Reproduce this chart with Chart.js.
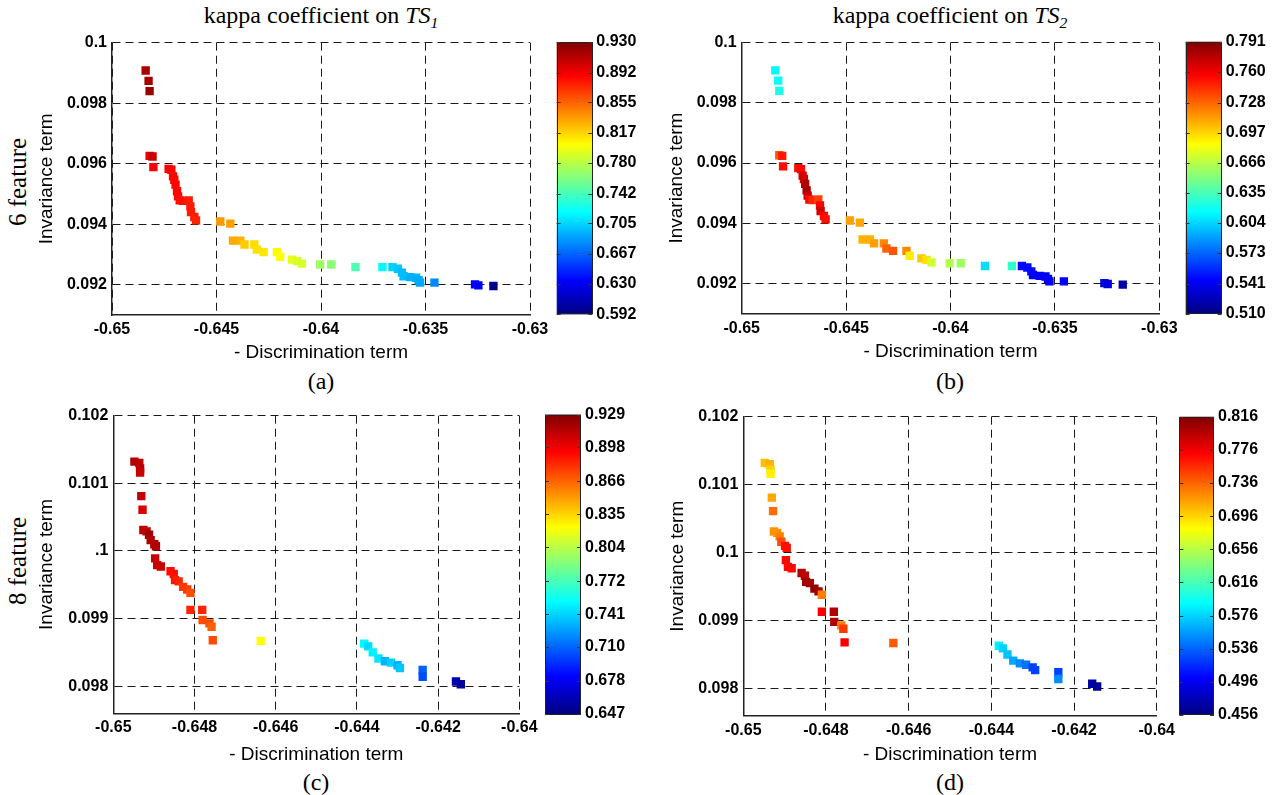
<!DOCTYPE html>
<html>
<head>
<meta charset="utf-8">
<script src="https://cdn.jsdelivr.net/npm/chart.js@4/dist/chart.umd.min.js"></script>
<style>
  html, body { margin:0; padding:0; background:#fff; }
  #root { position:relative; width:1275px; height:795px; overflow:hidden; background:#fff; }
  canvas { position:absolute; }
  .lbl { position:absolute; transform:translate(-50%,-50%); white-space:nowrap; font-family:'Liberation Serif','Times New Roman',serif; color:#000; line-height:1; }
  .rot { transform:translate(-50%,-50%) rotate(-90deg); }
  sub { font-size:65%; vertical-align:-0.3em; }
</style>
</head>
<body>
<div id="root">
  <div class="lbl" style="left:321px;top:17px;font-size:24px;">kappa coefficient on <i>TS</i><sub><i>1</i></sub></div>
  <div class="lbl" style="left:950px;top:17px;font-size:24px;">kappa coefficient on <i>TS</i><sub><i>2</i></sub></div>
  <div class="lbl rot" style="left:17px;top:182px;font-size:25px;">6 feature</div>
  <div class="lbl rot" style="left:17px;top:561px;font-size:25px;">8 feature</div>
  <div class="lbl" style="left:321px;top:381px;font-size:24px;">(a)</div>
  <div class="lbl" style="left:950px;top:381px;font-size:24px;">(b)</div>
  <div class="lbl" style="left:316px;top:782px;font-size:24px;">(c)</div>
  <div class="lbl" style="left:950px;top:782px;font-size:24px;">(d)</div>
</div>
<script>
// ---------------- DATA ----------------
// 6-feature Pareto front (shared by panels a and b)
const disc6 = [-0.64839,-0.64825,-0.64820,-0.64820,-0.64806,-0.64802,-0.64729,-0.64716,-0.64708,-0.64702,
  -0.64696,-0.64689,-0.64684,-0.64676,-0.64660,-0.64633,-0.64625,-0.64622,-0.64606,-0.64598,
  -0.64482,-0.64434,-0.64421,-0.64386,-0.64366,-0.64319,-0.64307,-0.64275,-0.64211,-0.64195,
  -0.64139,-0.64115,-0.64091,-0.64004,-0.63951,-0.63835,-0.63706,-0.63658,-0.63632,-0.63613,
  -0.63605,-0.63573,-0.63545,-0.63533,-0.63526,-0.63457,-0.63263,-0.63247,-0.63175];
const inv6 = [0.09908,0.09874,0.09840,0.09626,0.09624,0.09589,0.09583,0.09580,0.09558,0.09547,
  0.09531,0.09509,0.09492,0.09479,0.09477,0.09479,0.09459,0.09440,0.09424,0.09413,
  0.09409,0.09402,0.09346,0.09346,0.09333,0.09333,0.09316,0.09308,0.09308,0.09292,
  0.09283,0.09278,0.09270,0.09267,0.09267,0.09258,0.09258,0.09258,0.09253,0.09240,
  0.09228,0.09225,0.09223,0.09215,0.09207,0.09207,0.09201,0.09198,0.09196];
const kappaTS1_6 = [0.916,0.916,0.923,0.893,0.906,0.888,0.888,0.888,0.886,0.886,
  0.886,0.886,0.886,0.883,0.883,0.879,0.879,0.879,0.879,0.876,
  0.837,0.835,0.832,0.829,0.820,0.815,0.813,0.812,0.805,0.803,
  0.795,0.791,0.790,0.771,0.764,0.744,0.717,0.704,0.700,0.697,
  0.697,0.693,0.693,0.690,0.690,0.680,0.633,0.633,0.595];
const kappaTS2_6 = [0.614,0.617,0.622,0.732,0.749,0.752,0.752,0.754,0.766,0.769,
  0.777,0.780,0.771,0.754,0.746,0.738,0.757,0.769,0.754,0.752,
  0.712,0.710,0.707,0.707,0.712,0.718,0.729,0.732,0.718,0.690,
  0.701,0.693,0.673,0.665,0.659,0.606,0.628,0.547,0.547,0.547,
  0.544,0.544,0.544,0.544,0.544,0.544,0.538,0.535,0.521];

// 8-feature Pareto front (shared by panels c and d)
const disc8 = [-0.64948,-0.64936,-0.64934,-0.64934,-0.64931,-0.64928,-0.64926,-0.64918,-0.64912,-0.64908,
  -0.64899,-0.64895,-0.64897,-0.64892,-0.64883,-0.64859,-0.64851,-0.64848,-0.64839,-0.64828,
  -0.64818,-0.64810,-0.64810,-0.64781,-0.64780,-0.64763,-0.64758,-0.64755,-0.64637,-0.64382,
  -0.64372,-0.64361,-0.64347,-0.64331,-0.64316,-0.64300,-0.64294,-0.64238,-0.64238,-0.64156,-0.64144];
const inv8 = [0.10132,0.10130,0.10122,0.10116,0.10081,0.10061,0.10031,0.10029,0.10024,0.10016,
  0.10010,0.10007,0.09989,0.09979,0.09977,0.09970,0.09966,0.09957,0.09955,0.09947,
  0.09943,0.09938,0.09913,0.09913,0.09898,0.09893,0.09888,0.09868,0.09867,0.09863,
  0.09859,0.09850,0.09841,0.09837,0.09835,0.09831,0.09827,0.09824,0.09814,0.09807,0.09803];
const kappaTS1_8 = [0.915,0.912,0.912,0.909,0.912,0.904,0.912,0.912,0.921,0.915,
  0.915,0.915,0.909,0.909,0.909,0.890,0.890,0.887,0.884,0.878,
  0.878,0.873,0.884,0.884,0.873,0.873,0.867,0.873,0.823,0.751,
  0.743,0.749,0.746,0.732,0.740,0.732,0.737,0.709,0.703,0.661,0.655];
const kappaTS2_8 = [0.704,0.708,0.697,0.686,0.712,0.733,0.719,0.719,0.726,0.744,
  0.766,0.766,0.769,0.769,0.769,0.798,0.794,0.805,0.802,0.809,
  0.805,0.726,0.773,0.798,0.798,0.726,0.751,0.773,0.740,0.586,
  0.575,0.571,0.560,0.550,0.542,0.524,0.524,0.524,0.550,0.470,0.463];

// axis ticks
const xTicks6 = [-0.65,-0.645,-0.64,-0.635,-0.63];
const xLabels6 = ['-0.65','-0.645','-0.64','-0.635','-0.63'];
const yTicks6 = [0.092,0.094,0.096,0.098,0.1];
const yLabels6 = ['0.092','0.094','0.096','0.098','0.1'];
const xTicks8 = [-0.65,-0.648,-0.646,-0.644,-0.642,-0.64];
const xLabels8 = ['-0.65','-0.648','-0.646','-0.644','-0.642','-0.64'];
const yTicks8 = [0.098,0.099,0.1,0.101,0.102];
const yLabels8c = ['0.098','0.099','.1','0.101','0.102'];
const yLabels8d = ['0.098','0.099','0.1','0.101','0.102'];

// colorbar ticks
const cbTicksA = [0.592,0.630,0.667,0.705,0.742,0.780,0.817,0.855,0.892,0.930];
const cbTicksB = [0.510,0.541,0.573,0.604,0.635,0.666,0.697,0.728,0.760,0.791];
const cbTicksC = [0.647,0.678,0.710,0.741,0.772,0.804,0.835,0.866,0.898,0.929];
const cbTicksD = [0.456,0.496,0.536,0.576,0.616,0.656,0.696,0.736,0.776,0.816];

// ---------------- RENDERING ----------------
const SANS = "'Liberation Sans', Arial, Helvetica, sans-serif";
Chart.defaults.font.family = SANS;
Chart.defaults.color = '#000';
const TICK_FONT = {size:16, weight:'bold'};

function clamp(v){ return Math.max(0, Math.min(1, v)); }
function jet(t){
  t = clamp(t);
  const r = clamp(1.5 - Math.abs(4*t - 3));
  const g = clamp(1.5 - Math.abs(4*t - 2));
  const b = clamp(1.5 - Math.abs(4*t - 1));
  return 'rgb(' + Math.round(r*255) + ',' + Math.round(g*255) + ',' + Math.round(b*255) + ')';
}

const root = document.getElementById('root');
function makeCanvas(box){
  const c = document.createElement('canvas');
  c.width = box.W; c.height = box.H;
  c.style.left = box.L + 'px'; c.style.top = box.T + 'px';
  c.style.width = box.W + 'px'; c.style.height = box.H + 'px';
  root.appendChild(c);
  return c;
}

function makePlot(p){
  const {box, area} = p;
  const cmin = p.cb[0], cmax = p.cb[p.cb.length-1];
  const pts = p.xs.map((x,i)=>({x:x, y:p.ys[i]}));
  const colors = p.k.map(v => jet((v - cmin)/(cmax - cmin)));
  const titleLH = 19*1.2/2;
  new Chart(makeCanvas(box), {
    type:'scatter',
    data:{ datasets:[{ data:pts, pointStyle:'rect', pointRadius:5.9, pointHoverRadius:5.9,
      pointBorderWidth:0, pointBackgroundColor:colors, showLine:false }]},
    options:{
      responsive:false, animation:false, events:[],
      layout:{ padding:{ left:0, top:area.t - box.T, right:box.L + box.W - area.r, bottom:0 } },
      plugins:{ legend:{display:false}, tooltip:{enabled:false}, title:{display:false} },
      scales:{
        x:{ type:'linear', position:'bottom', min:p.xmin, max:p.xmax,
          afterBuildTicks:s=>{ s.ticks = p.xTicks.map(v=>({value:v})); },
          afterFit:s=>{ s.height = box.T + box.H - area.b; },
          ticks:{ callback:(v,i)=>p.xLabels[i], font:TICK_FONT, color:'#000', padding:5, maxRotation:0, autoSkip:false },
          grid:{ color:'#1a1a1a', lineWidth:1, drawTicks:false },
          border:{ display:true, color:'#222', width:1.5, dash:[8,5] },
          title:{ display:true, text:'- Discrimination term', font:{size:19}, color:'#000',
            padding:{top:0, bottom: box.T + box.H - p.xTitleY - titleLH} }
        },
        y:{ type:'linear', position:'left', min:p.ymin, max:p.ymax,
          afterBuildTicks:s=>{ s.ticks = p.yTicks.map(v=>({value:v})); },
          afterFit:s=>{ s.width = area.l - box.L; },
          ticks:{ callback:(v,i)=>p.yLabels[i], font:TICK_FONT, color:'#000', padding:5, autoSkip:false },
          grid:{ color:'#1a1a1a', lineWidth:1, drawTicks:false },
          border:{ display:true, color:'#222', width:1.5, dash:[8,5] },
          title:{ display:true, text:'Invariance term', font:{size:19}, color:'#000',
            padding:{top: p.yTitleX - box.L - titleLH, bottom:0} }
        }
      }
    }
  });
}

const colorbarPlugin = {
  id:'colorbar',
  beforeDatasetsDraw(chart){
    const {ctx, chartArea:a} = chart;
    const g = ctx.createLinearGradient(0, a.bottom, 0, a.top);
    [0, 0.125, 0.375, 0.625, 0.875, 1].forEach(t => g.addColorStop(t, jet(t)));
    ctx.save();
    ctx.fillStyle = g;
    ctx.fillRect(a.left, a.top, a.right - a.left, a.bottom - a.top);
    ctx.strokeStyle = '#222'; ctx.lineWidth = 1;
    ctx.strokeRect(Math.round(a.left)+0.5, Math.round(a.top)+0.5, Math.round(a.right-a.left)-1, Math.round(a.bottom-a.top)-1);
    const ys = chart.scales.y;
    ctx.strokeStyle = '#333';
    ys.ticks.forEach(t => {
      const y = Math.round(ys.getPixelForValue(t.value)) + 0.5;
      ctx.beginPath();
      ctx.moveTo(a.left, y); ctx.lineTo(a.left + 4, y);
      ctx.moveTo(a.right - 4, y); ctx.lineTo(a.right, y);
      ctx.stroke();
    });
    ctx.restore();
  }
};

function makeColorbar(box, area, ticks){
  new Chart(makeCanvas(box), {
    type:'scatter',
    data:{ datasets:[] },
    options:{
      responsive:false, animation:false, events:[],
      layout:{ padding:{ left:area.l - box.L, top:area.t - box.T, right:0, bottom:box.T + box.H - area.b } },
      plugins:{ legend:{display:false}, tooltip:{enabled:false} },
      scales:{
        x:{ display:false, min:0, max:1 },
        y:{ position:'right', min:ticks[0], max:ticks[ticks.length-1],
          afterBuildTicks:s=>{ s.ticks = ticks.map(v=>({value:v})); },
          afterFit:s=>{ s.width = box.L + box.W - area.r; },
          ticks:{ callback:v=>v.toFixed(3), font:TICK_FONT, color:'#000', padding:4, autoSkip:false },
          grid:{ display:false, drawTicks:false },
          border:{ display:false }
        }
      }
    },
    plugins:[colorbarPlugin]
  });
}

// panel (a)
makePlot({ box:{L:0,T:28,W:560,H:347}, area:{l:112,t:42.7,r:530,b:315},
  xs:disc6, ys:inv6, k:kappaTS1_6, cb:cbTicksA,
  xmin:-0.65, xmax:-0.63, ymin:0.091, ymax:0.1,
  xTicks:xTicks6, xLabels:xLabels6, yTicks:yTicks6, yLabels:yLabels6, xTitleY:353, yTitleX:47 });
makeColorbar({L:545,T:28,W:110,H:300}, {l:556.7,t:42,r:592.3,b:316}, cbTicksA);

// panel (b)
makePlot({ box:{L:630,T:28,W:560,H:347}, area:{l:741.7,t:42.7,r:1159.3,b:313.5},
  xs:disc6, ys:inv6, k:kappaTS2_6, cb:cbTicksB,
  xmin:-0.65, xmax:-0.63, ymin:0.091, ymax:0.1,
  xTicks:xTicks6, xLabels:xLabels6, yTicks:yTicks6, yLabels:yLabels6, xTitleY:352, yTitleX:677 });
makeColorbar({L:1175,T:28,W:100,H:300}, {l:1185.7,t:41.7,r:1221.7,b:314}, cbTicksB);

// panel (c)
makePlot({ box:{L:0,T:400,W:560,H:375}, area:{l:113.3,t:415.7,r:519.3,b:713.3},
  xs:disc8, ys:inv8, k:kappaTS1_8, cb:cbTicksC,
  xmin:-0.65, xmax:-0.64, ymin:0.0976, ymax:0.102,
  xTicks:xTicks8, xLabels:xLabels8, yTicks:yTicks8, yLabels:yLabels8c, xTitleY:755, yTitleX:47 });
makeColorbar({L:535,T:400,W:110,H:330}, {l:545,t:414.5,r:581,b:714}, cbTicksC);

// panel (d)
makePlot({ box:{L:630,T:400,W:560,H:375}, area:{l:743.3,t:416.7,r:1156.7,b:715.7},
  xs:disc8, ys:inv8, k:kappaTS2_8, cb:cbTicksD,
  xmin:-0.65, xmax:-0.64, ymin:0.0976, ymax:0.102,
  xTicks:xTicks8, xLabels:xLabels8, yTicks:yTicks8, yLabels:yLabels8d, xTitleY:755, yTitleX:678 });
makeColorbar({L:1170,T:400,W:105,H:330}, {l:1179.3,t:416.7,r:1214,b:715}, cbTicksD);
</script>
</body>
</html>
